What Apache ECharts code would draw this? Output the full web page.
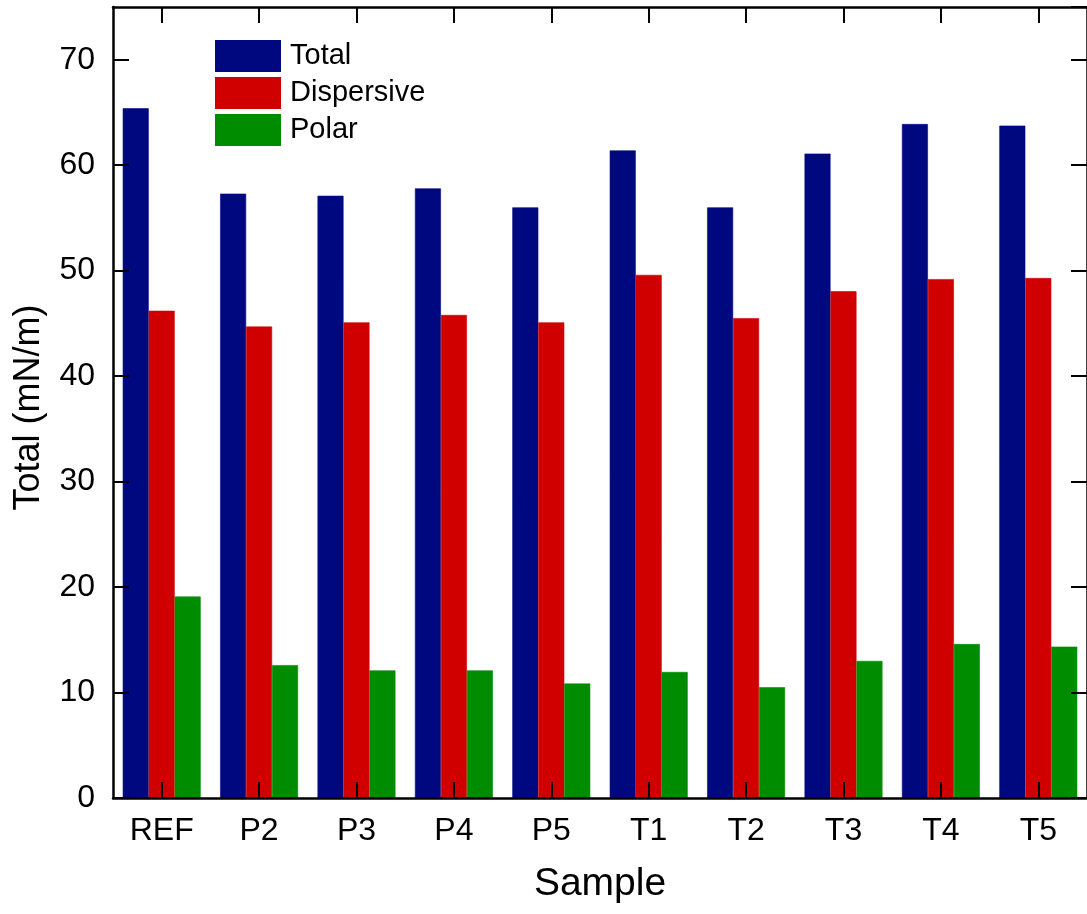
<!DOCTYPE html>
<html>
<head>
<meta charset="utf-8">
<script src="https://cdn.jsdelivr.net/npm/echarts@6/dist/echarts.min.js"></script>
<style>
  html, body { margin: 0; padding: 0; background: #fff; }
  #chart { width: 1087px; height: 914px; }
</style>
</head>
<body>
<div id="chart"></div>
<script>
// Surface free energy components per sample (mN/m)
const samples = ['REF', 'P2', 'P3', 'P4', 'P5', 'T1', 'T2', 'T3', 'T4', 'T5'];
const totalValues      = [65.4, 57.3, 57.1, 57.8, 56.0, 61.4, 56.0, 61.1, 63.9, 63.75];
const dispersiveValues = [46.2, 44.7, 45.1, 45.8, 45.1, 49.6, 45.5, 48.05, 49.2, 49.3];
const polarValues      = [19.1, 12.6, 12.1, 12.1, 10.85, 11.95, 10.5, 13.0, 14.6, 14.35];
const yTicks = { min: 0, max: 75, interval: 10 };

const FONT = '"Liberation Sans", Arial, sans-serif';
const axisLine = () => ({ show: true, onZero: false, lineStyle: { color: '#000', width: 2.5 } });
const tick = (extra) => Object.assign({ show: true, inside: true, length: 16, lineStyle: { color: '#000', width: 2 } }, extra || {});
// solid bar fill; a hairline border in the same colour closes the seam between adjacent bars
const barStyle = (c) => ({ color: c, borderColor: c, borderWidth: 0.6 });

const chart = echarts.init(document.getElementById('chart'), null, { renderer: 'canvas' });

chart.setOption({
  animation: false,
  backgroundColor: '#fff',
  textStyle: { fontFamily: FONT },
  grid: { left: 113, right: -6, top: 7, bottom: 116, containLabel: false },
  legend: {
    orient: 'vertical',
    left: 215,
    top: 40,
    itemWidth: 66,
    itemHeight: 32,
    itemGap: 5,
    icon: 'rect',
    padding: 0,
    selectedMode: false,
    itemStyle: { borderWidth: 0 },
    textStyle: { fontFamily: FONT, fontSize: 29, color: '#000', padding: [0, 0, 0, 4] },
    data: ['Total', 'Dispersive', 'Polar']
  },
  xAxis: [
    {
      type: 'category',
      data: samples,
      position: 'bottom',
      z: 10,
      name: 'Sample',
      nameLocation: 'middle',
      nameGap: 67,
      nameTextStyle: { fontFamily: FONT, fontSize: 39, color: '#000' },
      axisLine: axisLine(),
      axisTick: tick({ alignWithLabel: true }),
      axisLabel: { fontFamily: FONT, fontSize: 32, color: '#000', margin: 17 },
      splitLine: { show: false }
    },
    {
      type: 'category',
      data: samples,
      position: 'top',
      z: 10,
      axisLine: axisLine(),
      axisTick: tick({ alignWithLabel: true }),
      axisLabel: { show: false },
      splitLine: { show: false }
    }
  ],
  yAxis: [
    {
      type: 'value',
      min: yTicks.min,
      max: yTicks.max,
      interval: yTicks.interval,
      position: 'left',
      z: 10,
      name: 'Total (mN/m)',
      nameLocation: 'middle',
      nameGap: 66,
      nameTextStyle: { fontFamily: FONT, fontSize: 36, color: '#000', padding: [0, 0, 0, -10] },
      axisLine: axisLine(),
      axisTick: tick(),
      axisLabel: { fontFamily: FONT, fontSize: 32, color: '#000', margin: 18, showMaxLabel: false },
      splitLine: { show: false }
    },
    {
      type: 'value',
      min: yTicks.min,
      max: yTicks.max,
      interval: yTicks.interval,
      position: 'right',
      z: 10,
      axisLine: axisLine(),
      axisTick: tick(),
      axisLabel: { show: false },
      splitLine: { show: false }
    }
  ],
  series: [
    {
      name: 'Total', type: 'bar', data: totalValues,
      itemStyle: barStyle('#00087f'),
      barGap: '0%', barCategoryGap: '20%'
    },
    {
      name: 'Dispersive', type: 'bar', data: dispersiveValues,
      itemStyle: barStyle('#d00000'),
      barGap: '0%', barCategoryGap: '20%'
    },
    {
      name: 'Polar', type: 'bar', data: polarValues,
      itemStyle: barStyle('#008c00'),
      barGap: '0%', barCategoryGap: '20%'
    }
  ]
});
</script>
</body>
</html>
